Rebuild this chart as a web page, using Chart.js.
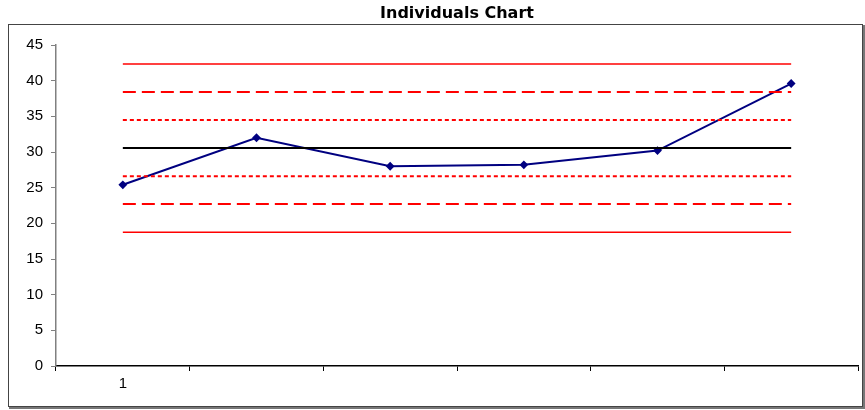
<!DOCTYPE html>
<html>
<head>
<meta charset="utf-8">
<script src="https://cdn.jsdelivr.net/npm/chart.js@4"></script>
<style>
  body { margin: 0; background: #fff; }
  #wrap { width: 865px; height: 410px; position: relative; }
</style>
</head>
<body>
<div id="wrap"><canvas id="chart" width="865" height="410"></canvas></div>
<script>
// values
const labels = ['1', '', '', '', '', ''];
const individuals = [25.4, 32.0, 28.0, 28.2, 30.2, 39.6];
const centerLine = [30.55, 30.55, 30.55, 30.55, 30.55, 30.55];
const ucl = [42.35, 42.35, 42.35, 42.35, 42.35, 42.35];
const lcl = [18.75, 18.75, 18.75, 18.75, 18.75, 18.75];
const upper2s = [38.4, 38.4, 38.4, 38.4, 38.4, 38.4];
const lower2s = [22.7, 22.7, 22.7, 22.7, 22.7, 22.7];
const upper1s = [34.5, 34.5, 34.5, 34.5, 34.5, 34.5];
const lower1s = [26.6, 26.6, 26.6, 26.6, 26.6, 26.6];

// outer frame like the Excel chart area border
const framePlugin = {
  id: 'frame',
  afterDraw(chart) {
    const ctx = chart.ctx;
    ctx.save();
    ctx.strokeStyle = '#444';
    ctx.lineWidth = 1;
    ctx.strokeRect(8.5, 24.5, 854, 382);
    ctx.strokeStyle = '#777';
    ctx.lineWidth = 2;
    ctx.beginPath();
    ctx.moveTo(9, 408); ctx.lineTo(864, 408); ctx.lineTo(864, 25);
    ctx.stroke();
    ctx.restore();
  }
};

function limitLine(data, color, width, dash) {
  return {
    data: data,
    borderColor: color,
    borderWidth: width,
    borderDash: dash,
    pointRadius: 0,
    fill: false,
    tension: 0
  };
}

new Chart(document.getElementById('chart'), {
  type: 'line',
  data: {
    labels: labels,
    datasets: [
      limitLine(ucl, '#ff0000', 1.5, []),
      limitLine(upper2s, '#ff0000', 2, [13, 6]),
      limitLine(upper1s, '#ff0000', 2, [4, 3]),
      limitLine(centerLine, '#000000', 2, []),
      limitLine(lower1s, '#ff0000', 2, [4, 3]),
      limitLine(lower2s, '#ff0000', 2, [13, 6]),
      limitLine(lcl, '#ff0000', 1.5, []),
      {
        data: individuals,
        borderColor: '#000080',
        backgroundColor: '#000080',
        borderWidth: 2,
        pointStyle: 'rectRot',
        pointRadius: 3,
        fill: false,
        tension: 0
      }
    ]
  },
  options: {
    responsive: false,
    animation: false,
    layout: { padding: { left: 0, right: 7, top: 0, bottom: 0 } },
    plugins: {
      legend: { display: false },
      tooltip: { enabled: false },
      title: {
        display: true,
        text: 'Individuals Chart',
        fullSize: false,
        color: '#000',
        font: { family: 'DejaVu Sans', size: 16, weight: 'bold' },
        padding: { top: 4, bottom: 21.8 }
      }
    },
    scales: {
      x: {
        offset: true,
        grid: {
          offset: true,
          drawOnChartArea: false,
          color: '#000',
          tickLength: 5
        },
        border: { color: '#000', width: 1.5 },
        ticks: {
          color: '#000',
          autoSkip: false,
          maxRotation: 0,
          padding: 4,
          font: { family: 'Liberation Sans', size: 15 }
        },
        afterFit(scale) { scale.height = 44; }
      },
      y: {
        min: 0,
        max: 45,
        ticks: {
          stepSize: 5,
          color: '#000',
          padding: 8,
          font: { family: 'Liberation Sans', size: 15 }
        },
        grid: {
          drawOnChartArea: false,
          color: '#808080',
          tickLength: 5
        },
        border: { color: '#808080', width: 1.5 },
        afterFit(scale) { scale.width = 56; }
      }
    }
  },
  plugins: [framePlugin]
});
</script>
</body>
</html>
